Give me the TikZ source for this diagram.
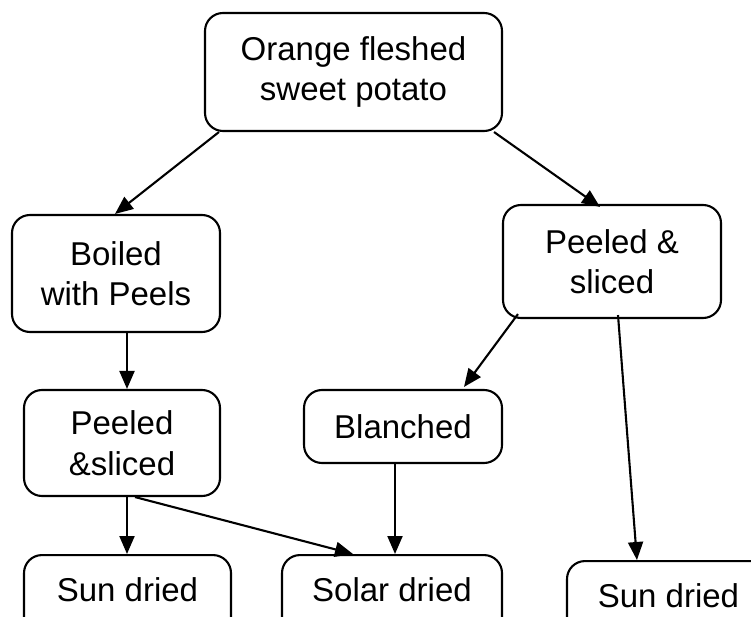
\documentclass[tikz,border=0pt]{standalone}
\usepackage{fontspec}
\setmainfont{Liberation Sans}
\usetikzlibrary{arrows.meta}
\begin{document}
\begin{tikzpicture}[x=1pt,y=-1pt,
  box/.style={draw, line width=2.1pt, rounded corners=18pt, inner sep=0pt, align=center,
    font=\fontsize{33}{40.5}\selectfont},
  bbox/.style={box, anchor=north, text height=46pt, text depth=40pt},
  arr/.style={line width=2.1pt, -{Triangle[length=18pt,width=15pt]}}]
\clip (0,0) rectangle (751,617);
\fill[white] (0,0) rectangle (751,617);

\node[box, minimum width=297pt, minimum height=118pt] (top) at (353.5,72) {Orange fleshed\\sweet potato};
\node[box, minimum width=208pt, minimum height=117pt] (boiled) at (116,273.5) {Boiled\\with Peels};
\node[box, minimum width=218pt, minimum height=113pt] (peelR) at (612,261.5) {Peeled \&\\sliced};
\node[box, minimum width=196pt, minimum height=106pt] (peelL) at (122,443) {Peeled\\\&sliced};
\node[box, minimum width=198pt, minimum height=73pt] (blanch) at (403,426.5) {Blanched};
\node[bbox, minimum width=207pt] (sunL) at (127.5,554) {Sun dried};
\node[bbox, minimum width=220pt] (solar) at (392,554) {Solar dried};
\node[bbox, minimum width=203pt] (sunR) at (668.5,560) {Sun dried};

\draw[arr] ([xshift=15pt]top.south west) -- ([xshift=-1pt]boiled.north);
\draw[arr] ([xshift=-9pt]top.south east) -- ([xshift=-12pt,yshift=-3pt]peelR.north);
\draw[arr] ([xshift=11pt]boiled.south) -- ([xshift=5pt]peelL.north);
\draw[arr] ([xshift=16pt,yshift=5pt]peelR.south west) -- ([xshift=61pt,yshift=2pt]blanch.north);
\draw[arr] ([xshift=6pt,yshift=4pt]peelR.south) -- ([xshift=71pt]sunR.north west);
\draw[arr] ([xshift=-8pt]blanch.south) -- ([xshift=3pt]solar.north);
\draw[arr] ([xshift=5pt]peelL.south) -- ([xshift=-0.5pt]sunL.north);
\draw[arr] ([xshift=13pt]peelL.south) -- ([xshift=-39pt]solar.north);
\end{tikzpicture}
\end{document}
